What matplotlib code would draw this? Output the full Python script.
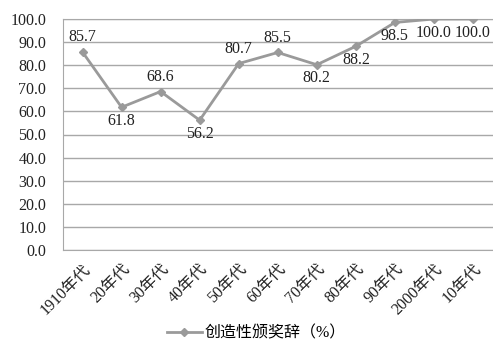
import matplotlib
matplotlib.use("Agg")
import matplotlib.pyplot as plt

# data
decades = ["1910年代", "20年代", "30年代", "40年代", "50年代", "60年代",
           "70年代", "80年代", "90年代", "2000年代", "10年代"]
values = [85.7, 61.8, 68.6, 56.2, 80.7, 85.5, 80.2, 88.2, 98.5, 100.0, 100.0]
label_pos = ["above", "below", "above", "below", "above", "above",
             "below", "below", "below", "below", "below"]
series_name = "创造性颁奖辞（%）"

plt.rcParams['font.family'] = ['Liberation Serif', 'Noto Sans CJK SC']

fig = plt.figure(figsize=(4.93, 3.44), dpi=100)
ax = fig.add_axes([63/493, 94/344, 1 - 63/493 - 0.001, 231/344])

x = range(len(values))
line_col = "#9a9a9a"
ax.plot(x, values, color=line_col, lw=2, marker="D", ms=4,
        label=series_name, zorder=3)

for i, (v, p) in enumerate(zip(values, label_pos)):
    if p == "above":
        ax.annotate(f"{v:.1f}", (i, v), xytext=(0, 5), textcoords="offset points",
                    ha="center", va="bottom", fontsize=11.5, color="#222222")
    else:
        ax.annotate(f"{v:.1f}", (i, v), xytext=(0, -4), textcoords="offset points",
                    ha="center", va="top", fontsize=11.5, color="#222222")

ax.set_xlim(-0.5, len(values) - 0.5)
ax.set_ylim(0, 100)
ax.set_yticks(range(0, 101, 10))
ax.set_yticklabels([f"{t:.1f}" for t in range(0, 101, 10)], fontsize=11.5, color="#222222")
ax.set_xticks(list(x))
ax.set_xticklabels(decades, rotation=45, ha="right", rotation_mode="anchor",
                   fontsize=11.5, color="#222222")
ax.tick_params(axis="y", length=0, pad=12)
ax.tick_params(axis="x", length=0, pad=8)
ax.grid(axis="y", color="#a8a8a8", lw=1)
ax.set_axisbelow(True)
for s in ax.spines.values():
    s.set_color("#a8a8a8")
ax.spines["right"].set_visible(False)

fig.legend(loc="lower center", bbox_to_anchor=(0.52, -0.035), frameon=False,
           fontsize=11.5, handlelength=2.2, handletextpad=0.2)

plt.savefig("out.png", dpi=100)
